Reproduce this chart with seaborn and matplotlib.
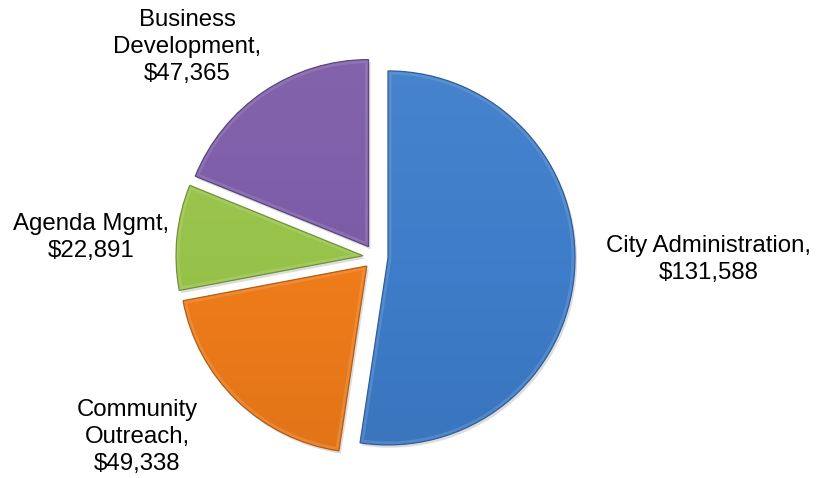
import numpy as np
import matplotlib
matplotlib.use("Agg")
import matplotlib.pyplot as plt
import matplotlib.patheffects as pe
from matplotlib.patches import Wedge
from matplotlib.colors import LinearSegmentedColormap, to_rgb
import seaborn as sns

# Budget allocation by program area (clockwise from 12 o'clock)
categories = ["City Administration", "Community Outreach", "Agenda Mgmt", "Business Development"]
amounts = [131588, 49338, 22891, 47365]
label_lines = ["City Administration,", "Community\nOutreach,", "Agenda Mgmt,", "Business\nDevelopment,"]

# Label anchor positions (pie radius = 1, centered at origin)
label_pos = [(1.781, -0.011), (-1.275, -0.963), (-1.521, 0.102), (-1.008, 1.123)]

sns.set_theme(style="white")
plt.rcParams["font.family"] = ["Liberation Sans", "DejaVu Sans"]

colors = sns.color_palette(["#3E7DCA", "#F07C1A", "#98C34A", "#7C5CA7"])


def mix(c, other, t):
    c = np.array(to_rgb(c))
    o = np.array(to_rgb(other))
    return tuple(c * (1 - t) + o * t)


fig = plt.figure(figsize=(8.19, 4.78), dpi=100)
ax = fig.add_axes([0, 0, 1, 1])

wedges, _ = ax.pie(
    amounts,
    startangle=90,
    counterclock=False,
    explode=[0.067] * len(amounts),
    radius=1.0,
    colors=colors,
    wedgeprops=dict(linewidth=0),
)

for w, col in zip(wedges, colors):
    w.set_path_effects([
        pe.SimplePatchShadow(offset=(1.5, -2), shadow_rgbFace=(0.4, 0.4, 0.4), alpha=0.22),
        pe.Normal(),
    ])
    cx, cy = w.center
    r = w.r
    # soft vertical shading inside each slice
    cmap = LinearSegmentedColormap.from_list(
        "shade", [mix(col, "white", 0.05), col, mix(col, "black", 0.06)]
    )
    grad = np.linspace(0, 1, 256).reshape(-1, 1)
    im = ax.imshow(grad, cmap=cmap, extent=(cx - r, cx + r, cy - r, cy + r),
                   origin="upper", aspect="auto", zorder=w.get_zorder() + 0.1,
                   interpolation="bicubic")
    im.set_clip_path(w)
    # bevelled rim: light inner band, dark outline
    rim = Wedge((cx, cy), r, w.theta1, w.theta2, facecolor="none",
                edgecolor=mix(col, "white", 0.3), linewidth=5, alpha=0.4,
                zorder=w.get_zorder() + 0.2)
    ax.add_patch(rim)
    rim.set_clip_path(w)
    edge = Wedge((cx, cy), r, w.theta1, w.theta2, facecolor="none",
                 edgecolor=mix(col, "black", 0.25), linewidth=0.9,
                 zorder=w.get_zorder() + 0.3)
    ax.add_patch(edge)

for name, amt, (x, y) in zip(label_lines, amounts, label_pos):
    ax.text(x, y, f"{name}\n${amt:,}", ha="center", va="center",
            fontsize=17.3, color="black", linespacing=1.3, zorder=5)

ax.set_xlim(-375.5 / 187, (819 - 375.5) / 187)
ax.set_ylim(-(478 - 257) / 187, 257 / 187)
ax.set_aspect("auto")
ax.axis("off")

fig.savefig("out.png", dpi=100, facecolor="white")
